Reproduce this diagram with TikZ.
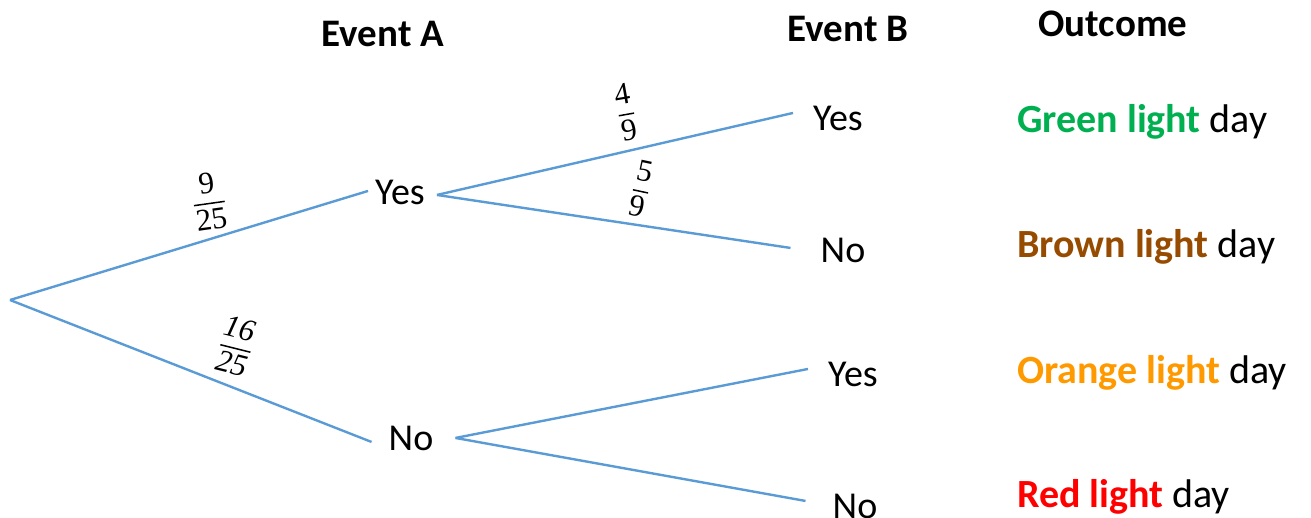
\documentclass[tikz,border=0pt]{standalone}
\usepackage{fontspec}
\setmainfont{Carlito}
\newfontfamily\fracfont{Liberation Serif}
\definecolor{branch}{RGB}{91,155,213}
\definecolor{greenday}{RGB}{0,176,80}
\definecolor{brownday}{RGB}{150,75,0}
\definecolor{orangeday}{RGB}{255,153,0}
\definecolor{redday}{RGB}{255,0,0}
% numerator over denominator with a visible bar, in the current text font
\newcommand{\probfrac}[2]{$\displaystyle{\hbox{#1}\above1.5pt\hbox{#2}}$}
\begin{document}
\begin{tikzpicture}[x=1pt,y=-1pt,
  txt/.style={font=\fontsize{38}{40}\selectfont, anchor=base, inner sep=0pt},
  head/.style={font=\bfseries\fontsize{39}{42}\selectfont, anchor=base, inner sep=0pt},
  outc/.style={font=\fontsize{40}{42}\selectfont, anchor=base west, inner sep=0pt},
  prob/.style={font=\fracfont\fontsize{31}{33}\selectfont, inner sep=0pt},
  branchline/.style={draw=branch, line width=2.4pt}]
\useasboundingbox (0,0) rectangle (1311,517);

% column headings
\node[head] (hA) at (383,46) {Event A};
\node[head] (hB) at (848,41) {Event B};
\node[head] (hO) at (1113,36) {Outcome};

% tree nodes
\coordinate (root) at (10,300);
\node[txt] (yesA) at (400,204) {Yes};
\node[txt] (noA)  at (411,450) {No};
\node[txt] (yesB1) at (838,130) {Yes};
\node[txt] (noB1)  at (843,262) {No};
\node[txt] (yesB2) at (853,386) {Yes};
\node[txt] (noB2)  at (855,518) {No};

% branches
\draw[branchline] (root) -- ([xshift=-7pt,yshift=1pt]yesA.west);
\draw[branchline] (root) -- ([xshift=-17pt,yshift=-4pt]noA.west);
\draw[branchline] ([xshift=12pt,yshift=-3pt]yesA.east) -- ([xshift=-20pt,yshift=5pt]yesB1.west);
\draw[branchline] ([xshift=12pt,yshift=-3pt]yesA.east) -- ([xshift=-30pt,yshift=2pt]noB1.west);
\draw[branchline] ([xshift=22pt,yshift=0pt]noA.east) -- ([xshift=-20pt,yshift=5pt]yesB2.west);
\draw[branchline] ([xshift=22pt,yshift=0pt]noA.east) -- ([xshift=-27pt,yshift=5pt]noB2.west);

% branch probabilities
\node[prob, rotate=8]   (pYes)  at (209,201) {\probfrac{9}{25}};
\node[prob, rotate=-14] (pNo)   at (236,346) {\itshape\probfrac{16}{25}};
\node[prob, rotate=10]  (pYY)   at (626,112) {\probfrac{4}{9}};
\node[prob, rotate=-12] (pYN)   at (641,189) {\probfrac{5}{9}};

% outcomes
\node[outc] (o1) at (1017,132) {\textcolor{greenday}{\bfseries Green light} day};
\node[outc] (o2) at (1017,257) {\textcolor{brownday}{\bfseries Brown light} day};
\node[outc] (o3) at (1017,383) {\textcolor{orangeday}{\bfseries Orange light} day};
\node[outc] (o4) at (1017,507) {\textcolor{redday}{\bfseries Red light} day};
\end{tikzpicture}
\end{document}
